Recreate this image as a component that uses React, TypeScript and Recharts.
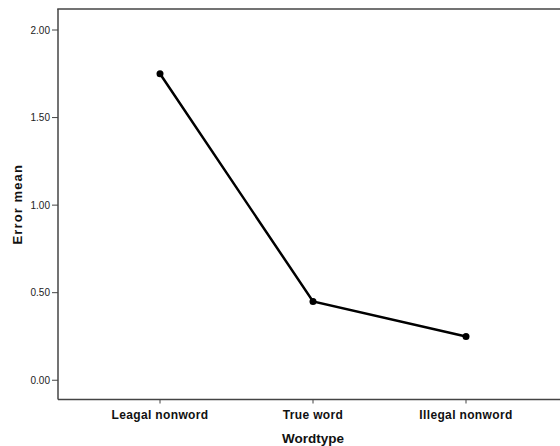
import React from "react";
import { LineChart, Line, XAxis, YAxis, Label } from "recharts";

const categories = ["Leagal nonword", "True word", "Illegal nonword"];
const errorMeans = [1.75, 0.45, 0.25];
const yTicks = [0, 0.5, 1, 1.5, 2];

const data = categories.map((c, i) => ({ name: c, value: errorMeans[i] }));

const FONT = '"Liberation Sans", Arial, sans-serif';
const AXIS = "#444";

export default function App() {
  return (
    <div
      style={{
        position: "absolute",
        left: 0,
        top: 0,
        width: 560,
        height: 446,
        overflow: "hidden",
        background: "#fff",
      }}
    >
      <LineChart
        width={560}
        height={446}
        data={data}
        margin={{ top: 9, right: -8, bottom: 0, left: 0 }}
        style={{ outline: "none" }}
      >
        <XAxis
          dataKey="name"
          height={46.5}
          padding={{ left: 102, right: 102 }}
          axisLine={{ stroke: AXIS, strokeWidth: 1.5 }}
          tickLine={{ stroke: AXIS }}
          tickSize={4}
          tickMargin={7}
          tick={{ fill: "#111", fontSize: 12, fontWeight: "bold", fontFamily: FONT, letterSpacing: 0.35 }}
        >
          <Label
            value="Wordtype"
            position="insideBottom"
            offset={3}
            style={{ fill: "#111", fontSize: 13.5, fontWeight: "bold", fontFamily: FONT }}
          />
        </XAxis>
        <YAxis
          width={58}
          domain={[-0.11, 2.12]}
          ticks={yTicks}
          allowDataOverflow
          tickFormatter={(v: number) => v.toFixed(2)}
          axisLine={{ stroke: AXIS, strokeWidth: 1.5 }}
          tickLine={{ stroke: AXIS }}
          tickSize={6}
          tickMargin={2}
          tick={{ fill: "#222", fontSize: 10, fontFamily: FONT }}
        >
          <Label
            value="Error mean"
            angle={-90}
            position="insideLeft"
            offset={0}
            dx={17}
            style={{ fill: "#111", fontSize: 13, fontWeight: "bold", fontFamily: FONT, letterSpacing: 1.1, textAnchor: "middle" }}
          />
        </YAxis>
        <Line
          type="linear"
          dataKey="value"
          stroke="#000"
          strokeWidth={2.5}
          dot={{ r: 3.5, fill: "#000", stroke: "#000", strokeWidth: 0 }}
          activeDot={false}
          isAnimationActive={false}
        />
        <line x1={57.25} y1={9} x2={560} y2={9} stroke={AXIS} strokeWidth={1.5} />
      </LineChart>
    </div>
  );
}
